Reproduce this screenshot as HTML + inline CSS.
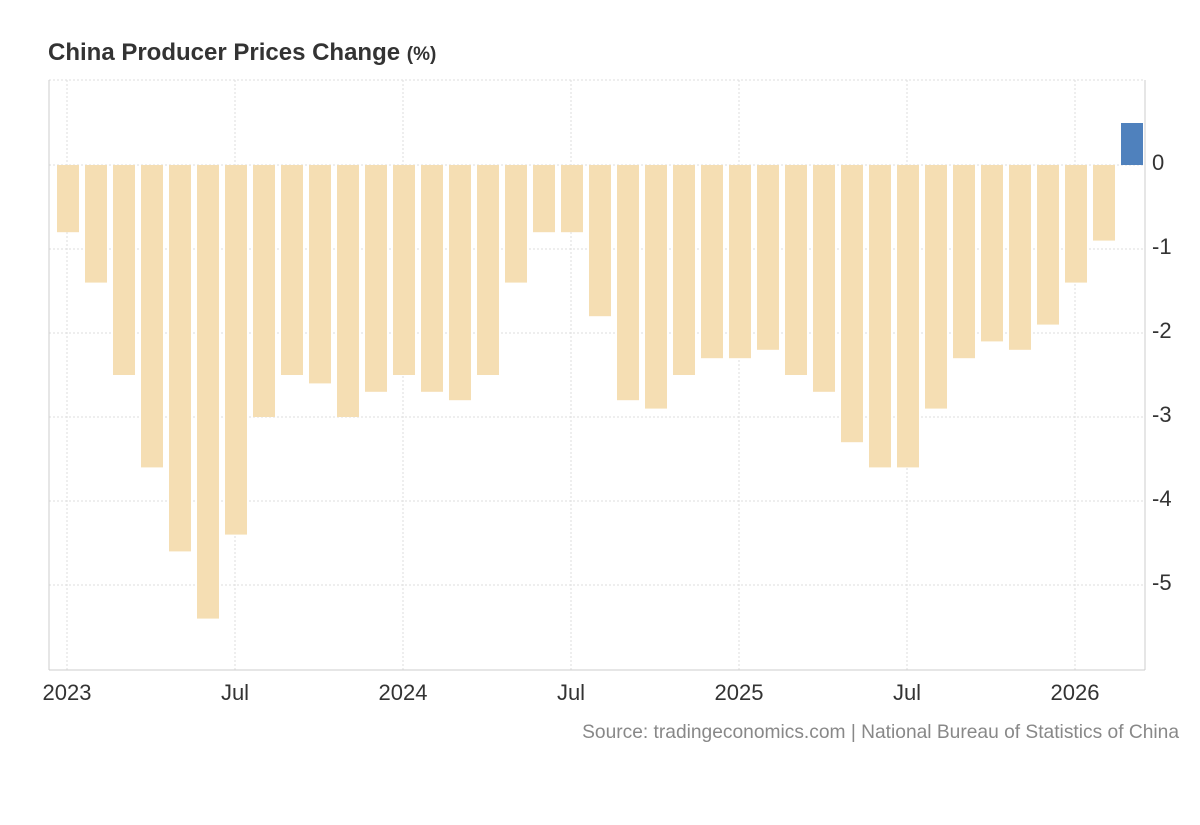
<!DOCTYPE html>
<html><head><meta charset="utf-8">
<style>
body{margin:0;background:#fff;width:1200px;height:820px;overflow:hidden;font-family:"Liberation Sans",Arial,sans-serif;}
</style></head>
<body>
<svg id="chart" width="1200" height="820" xmlns="http://www.w3.org/2000/svg">
<text x="48" y="60" font-size="24" font-weight="bold" fill="#333">China Producer Prices Change <tspan font-size="19">(%)</tspan></text>
<g id="grid"></g>
<g id="bars"></g>
<g id="axes"></g>
<text x="1179" y="738" font-size="19.2" fill="#888" text-anchor="end">Source: tradingeconomics.com | National Bureau of Statistics of China</text>
</svg>
<script>
const months = ["2023-01","2023-02","2023-03","2023-04","2023-05","2023-06","2023-07","2023-08","2023-09","2023-10","2023-11","2023-12","2024-01","2024-02","2024-03","2024-04","2024-05","2024-06","2024-07","2024-08","2024-09","2024-10","2024-11","2024-12","2025-01","2025-02","2025-03","2025-04","2025-05","2025-06","2025-07","2025-08","2025-09","2025-10","2025-11","2025-12","2026-01","2026-02","2026-03"];
const values = [-0.8,-1.4,-2.5,-3.6,-4.6,-5.4,-4.4,-3.0,-2.5,-2.6,-3.0,-2.7,-2.5,-2.7,-2.8,-2.5,-1.4,-0.8,-0.8,-1.8,-2.8,-2.9,-2.5,-2.3,-2.3,-2.2,-2.5,-2.7,-3.3,-3.6,-3.6,-2.9,-2.3,-2.1,-2.2,-1.9,-1.4,-0.9,0.5];
const yTicks = [0,-1,-2,-3,-4,-5];
const xTickLabels = ["2023","Jul","2024","Jul","2025","Jul","2026"];
const xTickMonths = [0,6,12,18,24,30,36];

const NS="http://www.w3.org/2000/svg";
const L=49,R=1145,T=80,B=670;
function y(v){return 165-v*84;}
function x(i){return 68+i*28.0;}
function mk(tag,attrs,parent){const e=document.createElementNS(NS,tag);for(const k in attrs)e.setAttribute(k,attrs[k]);document.getElementById(parent).appendChild(e);return e;}

yTicks.forEach(t=>{
  const g=mk("line",{x1:L,x2:R,y1:y(t),y2:y(t),stroke:"#ddd","stroke-dasharray":"2,2"},"grid");
  
  
  const tx=mk("text",{x:1152,y:y(t)+5,"font-size":22,fill:"#333"},"axes");
  tx.textContent=t===0?"0":"-"+Math.abs(t);
  
  
});
mk("line",{x1:L,x2:R,y1:T,y2:T,stroke:"#ddd","stroke-dasharray":"2,2"},"grid");
xTickMonths.forEach((m,k)=>{
  const px=x(m)-1;
  const g=mk("line",{x1:px,x2:px,y1:T,y2:B,stroke:"#ddd","stroke-dasharray":"2,2"},"grid");
  
  
  const tx=mk("text",{x:px,y:700,"font-size":22,fill:"#333","text-anchor":"middle"},"axes");
  tx.textContent=xTickLabels[k];
  
  
});
values.forEach((v,i)=>{
  const top=v>=0?y(v):y(0), h=Math.abs(y(v)-y(0));
  const r=mk("rect",{x:x(i)-11,y:top,width:22,height:h,fill:i===values.length-1?"#4f81bd":"#f5deb3"},"bars");
  
  
});
const ax=mk("line",{x1:L,x2:R,y1:B,y2:B,stroke:"#ccc"},"axes");


mk("line",{x1:L,x2:L,y1:T,y2:B,stroke:"#ccc"},"axes");
mk("line",{x1:R,x2:R,y1:T,y2:B,stroke:"#ccc"},"axes");
</script>
</body></html>
